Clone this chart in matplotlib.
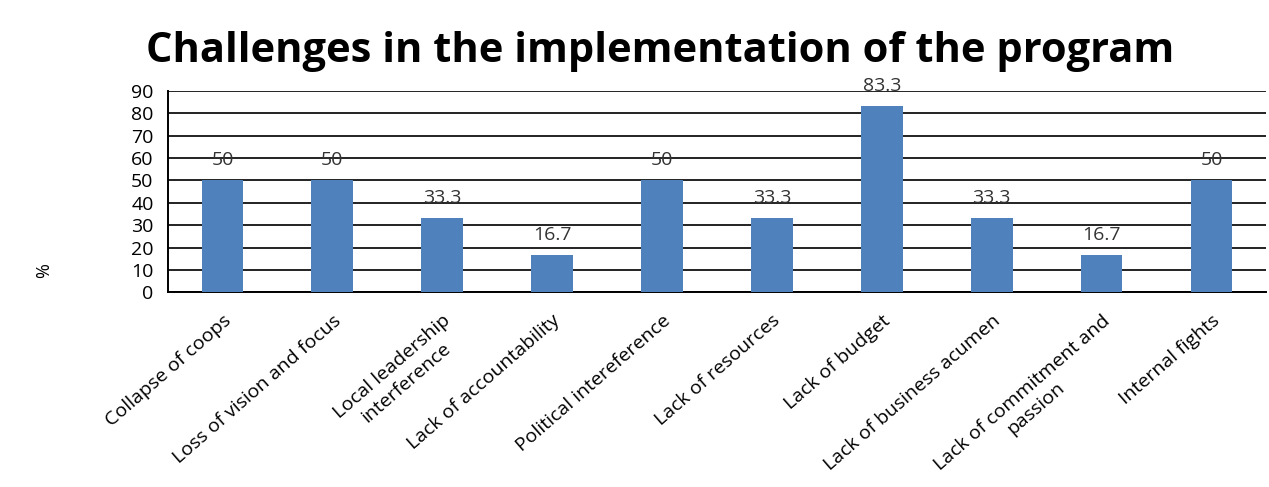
import matplotlib.pyplot as plt

categories = ["Collapse of coops", "Loss of vision and focus",
              "Local leadership\ninterference", "Lack of accountability",
              "Political intereference", "Lack of resources", "Lack of budget",
              "Lack of business acumen", "Lack of commitment and\npassion",
              "Internal fights"]
values = [50, 50, 33.3, 16.7, 50, 33.3, 83.3, 33.3, 16.7, 50]
yticks = [0, 10, 20, 30, 40, 50, 60, 70, 80, 90]

plt.rcParams['font.family'] = ['Open Sans', 'DejaVu Sans']

fig = plt.figure(figsize=(12.69, 4.87), dpi=100)
ax = fig.add_axes([0.132, 0.400, 0.866, 0.413])

x = range(len(categories))
ax.set_axisbelow(True)
ax.yaxis.grid(True, color="#222222", linewidth=1.4)
ax.bar(x, values, width=0.38, color="#4F81BD", zorder=3)
for i, v in zip(x, values):
    ax.text(i, v + 5, "%g" % v, ha="center", va="bottom", fontsize=14,
            color="#333333", zorder=4)

ax.set_xlim(-0.5, len(categories) - 0.5)
ax.set_ylim(0, 90)
ax.set_yticks(yticks)
ax.set_xticks(list(x))
ax.set_xticklabels(categories, rotation=41, ha="right", rotation_mode="anchor",
                   fontsize=14, multialignment="center")
ax.tick_params(axis='y', labelsize=14, length=0, pad=10)
ax.tick_params(axis='x', length=0, pad=14)
for s in ["top", "right"]:
    ax.spines[s].set_visible(False)
ax.spines["left"].set_linewidth(1.4)
ax.spines["bottom"].set_linewidth(1.4)

fig.text(0.52, 0.895, "Challenges in the implementation of the program",
         ha="center", va="center", fontsize=30, fontweight="bold")
fig.text(0.035, 0.445, "%", rotation=90, ha="center", va="center", fontsize=13)

fig.savefig("out.png", dpi=100)
